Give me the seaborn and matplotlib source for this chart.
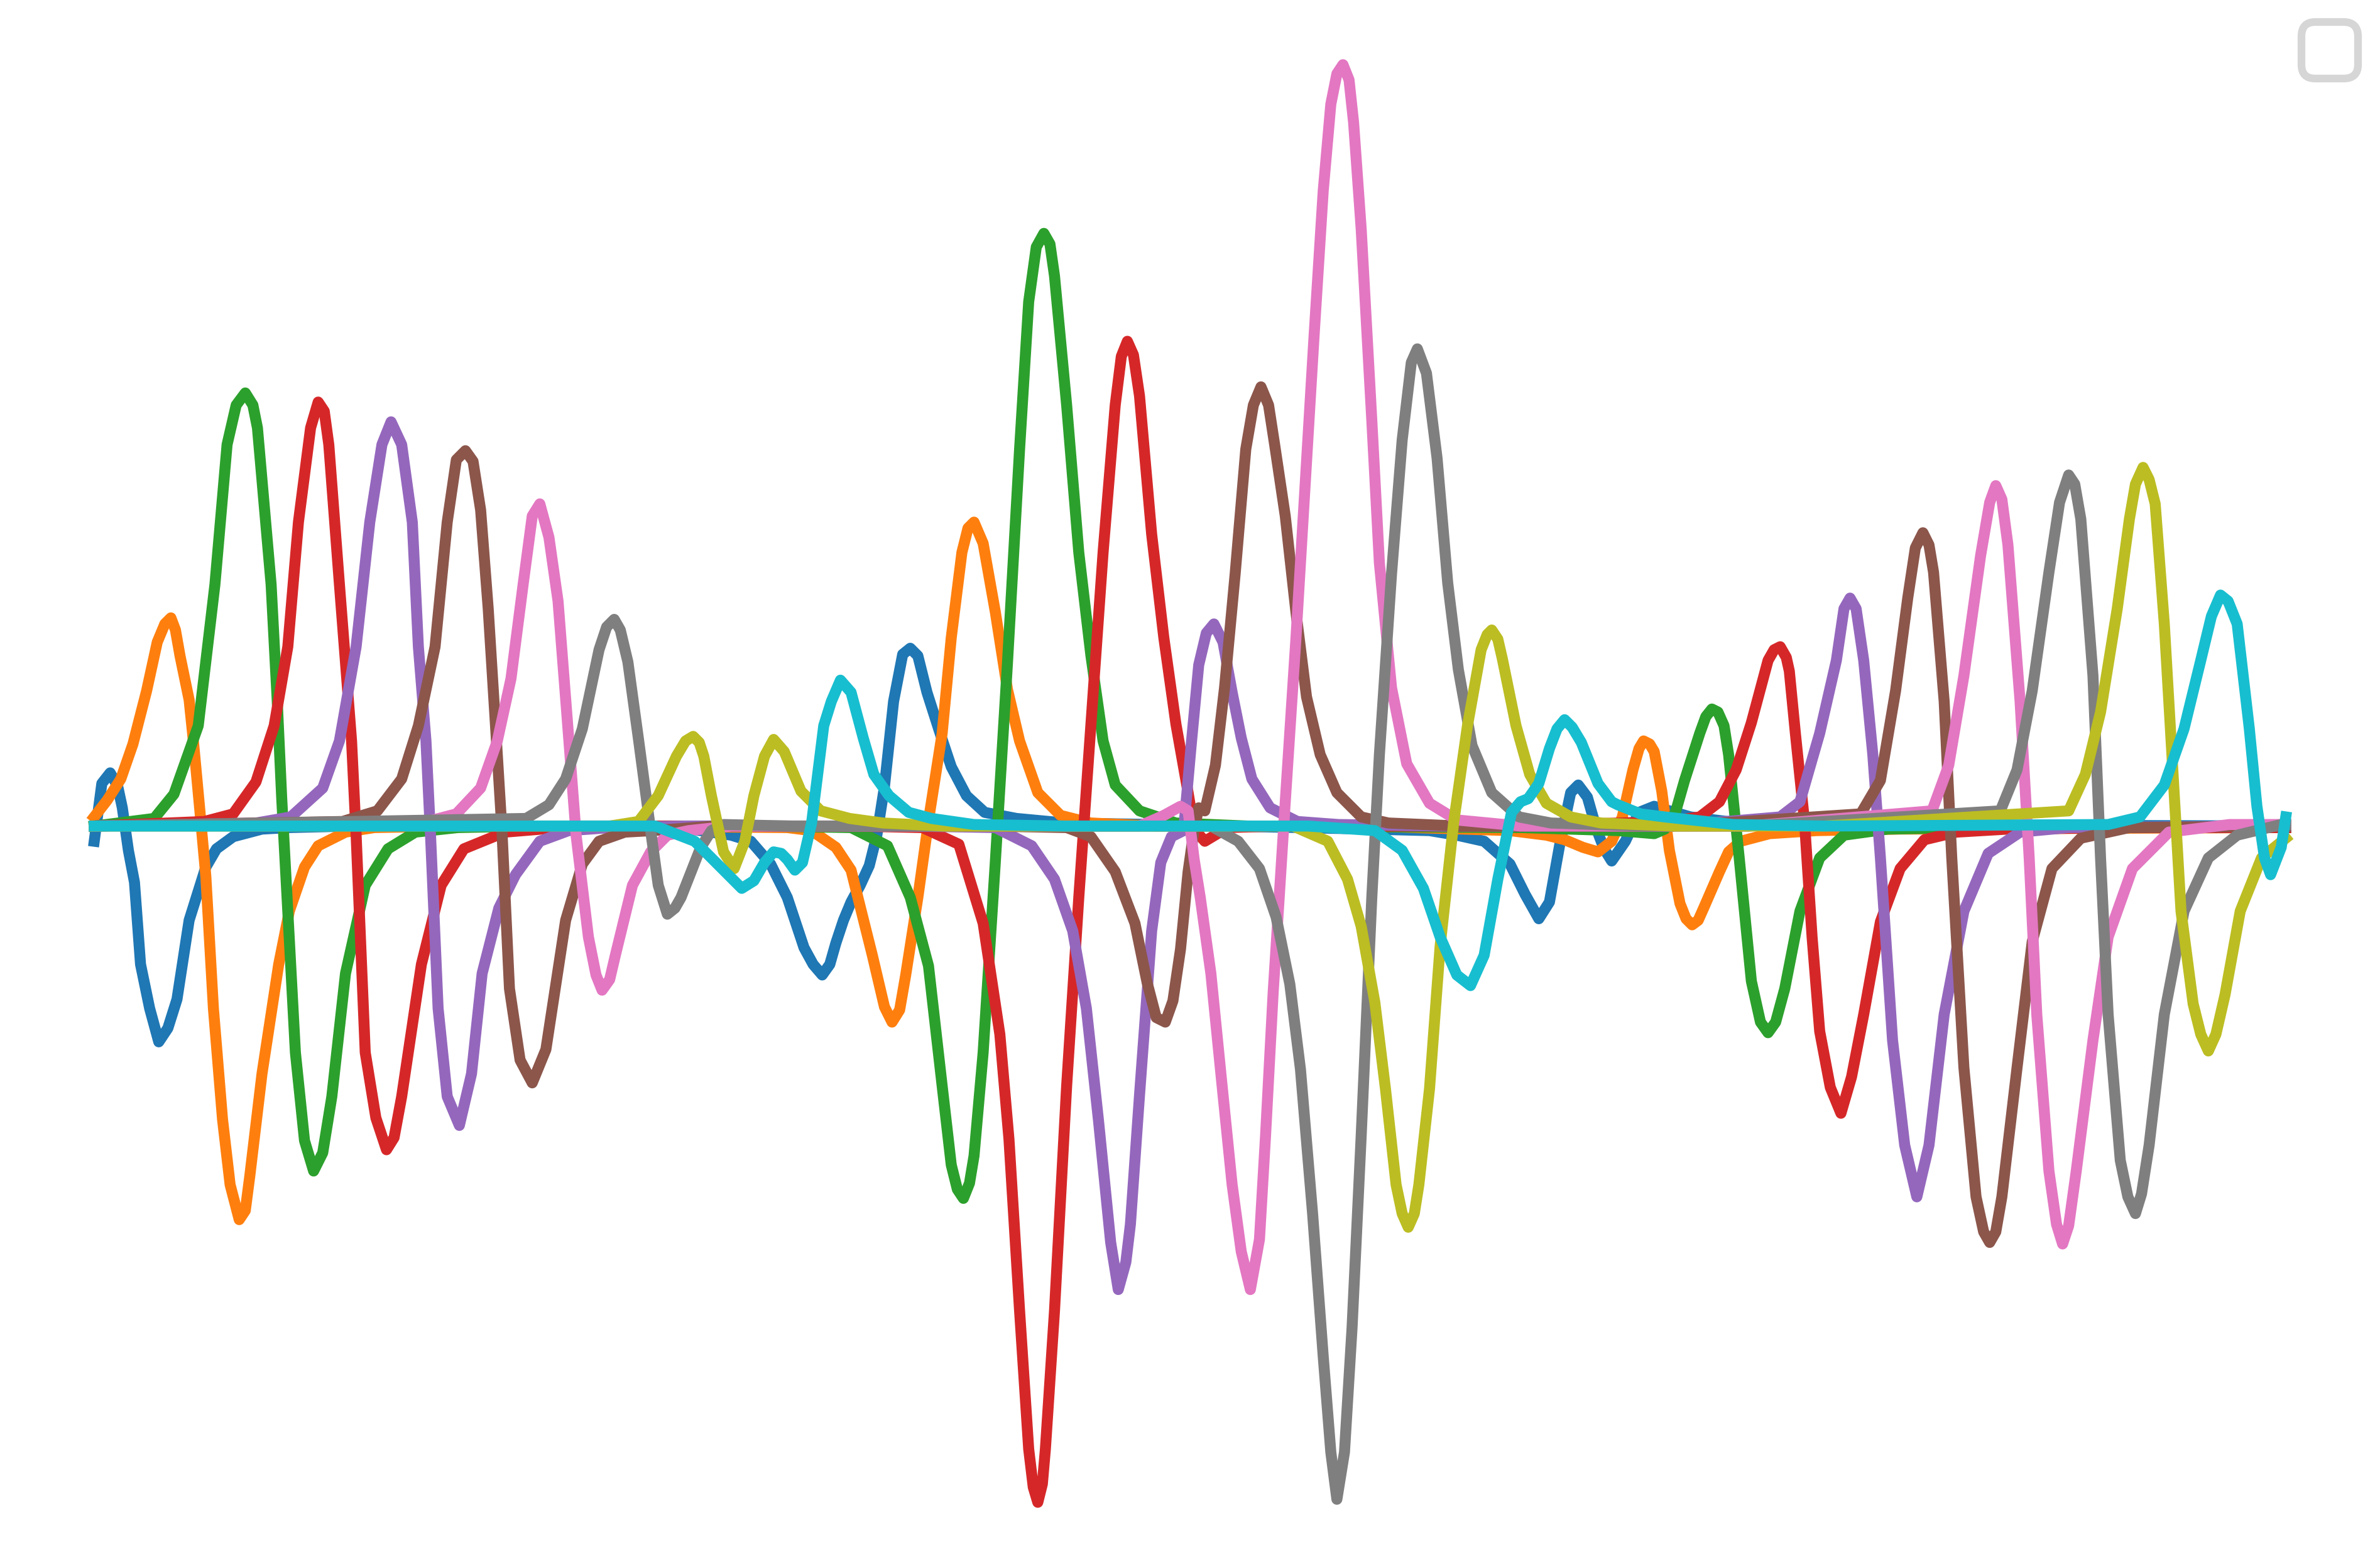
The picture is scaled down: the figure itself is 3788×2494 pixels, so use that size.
# ===============================
# Ondas (wavelets) em 10 séries - seaborn
# ===============================
import pandas as pd
import matplotlib
matplotlib.use("Agg")
import matplotlib.pyplot as plt
import seaborn as sns

# ===============================
# Dados (t = tempo, v = amplitude)
# ===============================
s0_t = [60.5, 65.5, 71, 76, 79, 83, 87, 91, 97, 103, 109, 115, 123, 134, 141, 152, 171, 189, 230,
        440, 480, 493, 506, 517, 528, 534, 540, 545, 549, 554, 559, 565, 571, 576, 581, 587, 593, 598,
        603, 609, 617, 625, 635, 647, 668, 700, 760,
        900, 940, 958, 976, 993, 1003, 1012, 1019, 1026, 1033, 1038, 1044, 1050, 1055, 1060, 1069,
        1078, 1088, 1098, 1112, 1136, 1200, 1504]
s0_v = [-10, 28, 35, 26, 12, -16, -37, -91, -120, -142, -133, -114, -62, -27, -15, -7, -2, -1, 0,
        0, -6, -10, -25, -47, -80, -91, -98, -91, -77, -62, -50, -39, -26, -6, 26, 82, 113, 117,
        112, 88, 63, 39, 20, 9, 5, 2, 1,
        -2, -3, -6, -10, -25, -45, -61, -50, -11, 22, 27, 19, -2, -15, -23, -10,
        9, 13, 10, 6, 3, 1, 0]

s1_t = [60.5, 69, 78, 86, 95, 102, 107, 111, 114, 117, 123, 126, 130, 134, 139, 145, 150, 156, 160, 163,
        171, 182, 189, 199, 208, 226, 245, 300,
        400, 517, 533, 549, 559, 565, 573, 581, 586, 591, 595, 603, 611, 619, 625, 632, 636, 640, 646, 654,
        662, 670, 682, 697, 717, 760,
        900, 993, 1017, 1029, 1041, 1051, 1060, 1067, 1074, 1078, 1081, 1085, 1088, 1093, 1098, 1105,
        1109, 1113, 1117, 1121, 1131, 1137, 1145, 1164, 1195, 1250, 1504]
s1_v = [6, 17, 31, 54, 89, 121, 133, 137, 129, 112, 83, 54, 11, -33, -120, -193, -236, -259, -253, -230,
        -163, -91, -56, -27, -13, -4, -1, 0,
        0, -1, -3, -14, -29, -53, -85, -119, -129, -121, -98, -47, 10, 61, 124, 180, 196, 200, 186, 141,
        90, 56, 22, 7, 2, 0,
        0, -3, -6, -9, -14, -17, -10, 6, 37, 51, 56, 54, 49, 23, -16, -51,
        -61, -65, -62, -53, -30, -17, -10, -5, -3, -2, -1]

s2_t = [60.5, 100, 113, 129, 140, 148, 154, 160, 165, 168, 177, 181, 184, 193, 199, 205, 211, 217, 226,
        239, 254, 272, 300, 350,
        500, 559, 583, 598, 610, 619, 625, 629, 633, 637, 640, 646, 654, 662, 670, 676, 681, 686, 690,
        693, 701, 709, 717, 725, 733, 749, 773, 820,
        1000, 1064, 1088, 1095, 1102, 1108, 1118, 1122, 1126, 1130, 1134, 1137, 1144, 1152, 1158, 1163,
        1168, 1174, 1184, 1197, 1213, 1242, 1300, 1504]
s2_v = [0, 5, 21, 66, 159, 251, 277, 285, 277, 262, 159, 83, 18, -149, -207, -227, -215, -178, -97,
        -39, -15, -4, -1, 0,
        0, -1, -13, -47, -92, -171, -223, -239, -245, -235, -217, -149, -24, 107, 248, 345, 381, 390, 383,
        362, 277, 180, 112, 56, 27, 10, 2, 0,
        -1, -3, -5, -2, 9, 30, 61, 72, 77, 75, 66, 47, -21, -102, -129, -136,
        -129, -107, -56, -21, -6, -2, -1, -1]

s3_t = [60.5, 133, 152, 167, 179, 188, 195, 203, 208, 212, 215, 222, 230, 233, 239, 246, 253, 258, 263,
        276, 289, 304, 331, 380,
        560, 606, 630, 646, 657, 663, 670, 676, 679, 682, 685, 687, 693, 701, 709, 717, 725, 733, 737,
        741, 745, 749, 757, 765, 773, 781, 785, 792, 807, 840,
        1000, 1097, 1118, 1131, 1142, 1152, 1163, 1167, 1171, 1175, 1177, 1181, 1187, 1192, 1197, 1204,
        1211, 1218, 1226, 1237, 1250, 1266, 1287, 1321, 1400, 1504]
s3_v = [0, 3, 8, 29, 66, 118, 200, 262, 279, 273, 251, 159, 56, -6, -149, -192, -213, -205, -178,
        -91, -39, -15, -4, 0,
        0, -1, -12, -64, -137, -206, -319, -410, -435, -445, -433, -410, -319, -171, -47, 67, 180, 277, 309,
        319, 310, 283, 192, 124, 67, 22, -2, -10, -1, 0,
        0, 3, 6, 16, 37, 68, 109, 116, 118, 111, 102, 61, 3, -73, -135, -172,
        -189, -165, -124, -63, -28, -9, -4, -2, -1, -1]

s4_t = [60.5, 167, 190, 211, 222, 233, 242, 250, 256, 263, 270, 274, 279, 282, 287, 293, 301, 309, 316,
        327, 338, 354, 373, 401, 450,
        600, 654, 678, 693, 705, 714, 722, 730, 735, 740, 743, 749, 757, 763, 770, 778, 783, 788, 793,
        798, 804, 810, 816, 823, 835, 853, 880, 950,
        1100, 1171, 1184, 1197, 1208, 1213, 1217, 1221, 1226, 1232, 1237, 1245, 1253, 1261, 1269, 1279,
        1292, 1308, 1329, 1361, 1504]
s4_v = [0, 2, 6, 25, 56, 118, 200, 251, 266, 251, 200, 118, 56, -6, -120, -178, -197, -163, -97,
        -54, -32, -10, -3, -1, 0,
        0, -1, -13, -35, -69, -120, -194, -274, -305, -287, -262, -177, -69, -24, -7, -3, 53, 106, 127,
        133, 121, 88, 58, 31, 12, 3, 1, 0,
        0, 6, 16, 61, 109, 143, 150, 143, 109, 47, -21, -141, -210, -244, -210, -124,
        -56, -18, -4, -1, 0]

s5_t = [60.5, 224, 247, 263, 274, 285, 293, 299, 305, 310, 315, 320, 325, 329, 334, 341, 349, 358, 371,
        382, 393, 410, 428, 470,
        650, 701, 717, 733, 746, 754, 760, 766, 771, 776, 781, 785, 788, 792, 799, 805, 812, 819, 824,
        829, 834, 838, 845, 852, 859, 868, 879, 895, 913, 960,
        1100, 1224, 1237, 1247, 1255, 1260, 1265, 1269, 1272, 1279, 1284, 1292, 1300, 1305, 1309, 1313,
        1317, 1327, 1337, 1350, 1369, 1401, 1504]
s5_v = [0, 3, 10, 31, 66, 118, 200, 241, 247, 240, 208, 143, 63, -2, -107, -154, -169, -147, -62,
        -25, -10, -4, -3, 0,
        0, -1, -7, -30, -64, -103, -126, -129, -115, -81, -30, -2, 12, 10, 40, 91, 166, 248, 277,
        289, 277, 251, 204, 141, 85, 47, 22, 6, 2, 0,
        0, 8, 30, 89, 150, 183, 193, 185, 167, 82, -21, -159, -244, -267, -274, -267,
        -244, -159, -76, -28, -8, -1, 0]

s6_t = [60.5, 276, 299, 315, 326, 335, 343, 349, 354, 360, 366, 372, 378, 386, 391, 395, 400, 404, 415,
        427, 438, 452, 480,
        700, 749, 765, 776, 781, 785, 789, 796, 803, 810, 816, 822, 828, 832, 837, 845, 852, 858, 864,
        870, 875, 879, 883, 887, 890, 895, 902, 907, 915, 925, 940, 958, 1000,
        1150, 1271, 1282, 1292, 1303, 1309, 1313, 1317, 1321, 1329, 1335, 1340, 1348, 1353, 1357, 1361,
        1366, 1377, 1387, 1403, 1427, 1467, 1504]
s6_v = [0, 2, 8, 25, 56, 97, 159, 204, 212, 190, 148, 71, -7, -73, -98, -108, -101, -84, -39,
        -17, -6, -3, 0,
        0, 0, 7, 13, 10, -22, -47, -97, -167, -236, -280, -305, -272, -204, -110, 16, 123, 223, 323,
        418, 475, 495, 501, 491, 463, 393, 267, 173, 91, 41, 15, 4, 0,
        0, 10, 40, 99, 178, 213, 224, 215, 185, 82, -21, -124, -227, -262, -275, -263,
        -227, -141, -73, -28, -4, 1, 1]

s7_t = [60.5, 345, 360, 371, 382, 393, 398, 403, 407, 412, 419, 427, 432, 438, 443, 447, 460, 467, 475, 520,
        700, 796, 814, 828, 839, 848, 855, 863, 870, 875, 879, 884, 889, 895, 902, 907, 915, 922, 928,
        932, 938, 945, 952, 959, 968, 981, 999, 1020, 1080,
        1150, 1316, 1327, 1337, 1348, 1355, 1361, 1365, 1369, 1377, 1382, 1387, 1395, 1400, 1405, 1409,
        1414, 1424, 1437, 1453, 1472, 1501, 1504]
s7_v = [0, 5, 14, 31, 64, 116, 131, 136, 129, 108, 57, -3, -39, -58, -54, -47, -14, -3, 1, 0,
        0, 0, -10, -28, -60, -104, -160, -255, -349, -412, -443, -412, -330, -204, -47, 47, 166, 254, 305,
        314, 298, 242, 160, 103, 53, 22, 6, 2, 0,
        0, 10, 37, 89, 167, 213, 231, 225, 202, 99, -21, -124, -220, -244, -255, -242,
        -210, -124, -56, -21, -6, 1, 1]

s8_t = [60.5, 400, 419, 432, 444, 450, 455, 459, 462, 467, 475, 482, 489, 495, 502, 508, 515, 526, 539,
        558, 580, 620,
        800, 850, 873, 886, 895, 904, 911, 918, 922, 926, 930, 933, 940, 947, 956, 965, 974, 978, 981,
        985, 988, 997, 1006, 1017, 1033, 1053, 1100,
        1200, 1361, 1372, 1382, 1393, 1401, 1405, 1410, 1414, 1418, 1424, 1430, 1435, 1443, 1448, 1453,
        1458, 1464, 1474, 1488, 1504]
s8_v = [0, 0, 3, 20, 46, 56, 59, 55, 46, 20, -17, -28, -10, 20, 46, 57, 49, 23, 10,
        5, 2, 0,
        0, 0, -10, -35, -66, -116, -173, -236, -255, -264, -255, -236, -173, -79, 3, 66, 116, 126, 129,
        123, 110, 66, 34, 15, 6, 2, 0,
        0, 10, 34, 75, 143, 202, 225, 236, 228, 212, 133, 30, -56, -117, -137, -148,
        -137, -111, -56, -21, -8]

s9_t = [60.5, 430, 456, 471, 487, 495, 502, 508, 513, 517, 522, 527, 533, 541, 546, 552, 559, 567, 574,
        584, 597, 612, 640, 700,
        860, 904, 922, 936, 947, 958, 967, 976, 985, 994, 1000, 1005, 1012, 1019, 1024, 1029, 1034, 1040,
        1051, 1060, 1064, 1079, 1095, 1140, 1200,
        1387, 1408, 1424, 1437, 1448, 1455, 1461, 1466, 1472, 1480, 1485, 1490, 1494, 1501, 1504]
s9_v = [0, 0, -10, -25, -41, -36, -24, -17, -18, -22, -29, -24, 2, 66, 82, 96, 88, 58, 34,
        20, 9, 5, 1, 0,
        0, -3, -16, -41, -73, -98, -105, -85, -35, 9, 16, 18, 28, 51, 64, 70, 65, 55,
        28, 16, 14, 8, 6, 1, 0,
        1, 6, 27, 64, 109, 138, 152, 148, 133, 64, 13, -21, -32, -14, 6]

series_names = ["s0", "s1", "s2", "s3", "s4", "s5", "s6", "s7", "s8", "s9"]
series_t = [s0_t, s1_t, s2_t, s3_t, s4_t, s5_t, s6_t, s7_t, s8_t, s9_t]
series_v = [s0_v, s1_v, s2_v, s3_v, s4_v, s5_v, s6_v, s7_v, s8_v, s9_v]

# ===============================
# Monta o DataFrame no formato longo
# ===============================
frames = []
for name, t, v in zip(series_names, series_t, series_v):
    frames.append(pd.DataFrame({"t": t, "v": v, "serie": name}))
df = pd.concat(frames, ignore_index=True)

# ===============================
# Gráfico
# ===============================
sns.set_theme(style="white")

fig = plt.figure(figsize=(18.94, 12.47), dpi=200)
ax = fig.add_axes([0, 0, 1, 1])

sns.lineplot(data=df, x="t", y="v", hue="serie", hue_order=series_names,
             palette="tab10", estimator=None, sort=False, linewidth=6.3,
             legend=False, ax=ax)

# pontas das linhas quadradas (padrão do matplotlib)
for line in ax.get_lines():
    line.set_solid_capstyle("projecting")

ax.margins(x=0.043, y=0.045)
ax.set_axis_off()

# legenda vazia (só a moldura)
leg = ax.legend(handles=[], labels=[], loc="upper right", fontsize=40.7,
                borderaxespad=0.31, frameon=True, fancybox=True)
leg.get_frame().set_edgecolor("0.8")
leg.get_frame().set_linewidth(4.4)

fig.savefig("out.png", dpi=200)
